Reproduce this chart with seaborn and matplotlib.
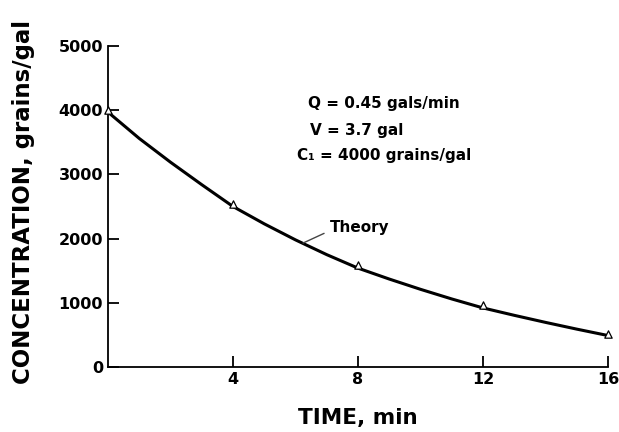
import matplotlib
matplotlib.use('Agg')
from matplotlib import pyplot as plt
import seaborn as sns
import pandas as pd

# theory curve
theory_time = [0, 1, 2, 3, 4, 5, 6, 7, 8, 9, 10, 11, 12, 13, 14, 15, 16]
theory_conc = [3970, 3560, 3190, 2840, 2500, 2230, 1980, 1750, 1540,
               1370, 1210, 1060, 920, 805, 695, 590, 490]

# measured points (open triangles)
meas_time = [0, 4, 8, 12, 16]
meas_conc = [4000, 2540, 1590, 970, 510]

x_ticks = [4, 8, 12, 16]
y_ticks = [0, 1000, 2000, 3000, 4000, 5000]

theory = pd.DataFrame({'time': theory_time, 'conc': theory_conc})
meas = pd.DataFrame({'time': meas_time, 'conc': meas_conc})

sns.set_style('ticks')
plt.rcParams['font.family'] = ['DejaVu Sans']
plt.rcParams['font.weight'] = 'bold'
plt.rcParams['text.color'] = 'black'
plt.rcParams['axes.labelcolor'] = 'black'

fig = plt.figure(figsize=(6.19, 4.32), dpi=100)
ax = fig.add_axes([108 / 619, 1 - 367 / 432, 500 / 619, 321 / 432])

sns.lineplot(data=theory, x='time', y='conc', ax=ax, color='black', linewidth=2.2)
sns.scatterplot(data=meas, x='time', y='conc', ax=ax, marker='^', s=28,
                facecolor='white', edgecolor='black', linewidth=0.9,
                clip_on=False, zorder=5)

ax.set_xlim(0, 16)
ax.set_ylim(0, 5000)
ax.set_xticks(x_ticks)
ax.set_yticks(y_ticks)
ax.tick_params(direction='in', length=8, width=1.3, labelsize=11.5, colors='black')
for lab in ax.get_xticklabels() + ax.get_yticklabels():
    lab.set_fontweight('bold')
sns.despine(ax=ax)
for side in ['left', 'bottom']:
    ax.spines[side].set_linewidth(1.3)
    ax.spines[side].set_color('black')

ax.set_xlabel('TIME, min', fontsize=15.5, fontweight='bold', labelpad=15)
ax.set_ylabel('CONCENTRATION, grains/gal', fontsize=16.5, fontweight='bold', labelpad=17)
ax.yaxis.label.set_y(0.515)

ax.text(6.4, 4100, 'Q = 0.45 gals/min', fontsize=11, fontweight='bold', va='center')
ax.text(6.45, 3680, 'V = 3.7 gal', fontsize=11, fontweight='bold', va='center')
ax.text(6.05, 3290, 'C\u2081 = 4000 grains/gal', fontsize=11, fontweight='bold', va='center')

ax.annotate('Theory', xy=(6.24, 1930), xytext=(7.1, 2170), fontsize=11,
            fontweight='bold', va='center', ha='left',
            arrowprops=dict(arrowstyle='-', color='#444444', lw=1.0,
                            shrinkA=2, shrinkB=0, relpos=(0, 0.3)))

fig.savefig('out.png', dpi=100)
